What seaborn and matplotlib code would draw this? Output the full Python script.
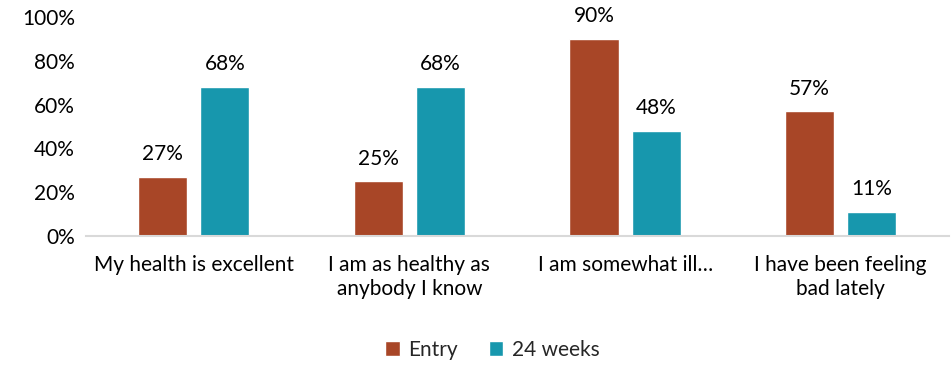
import pandas as pd
import matplotlib
matplotlib.use("Agg")
import matplotlib.pyplot as plt
import matplotlib.ticker as ticker
import seaborn as sns

# Data
categories = ["My health is excellent", "I am as healthy as\nanybody I know",
              "I am somewhat ill…", "I have been feeling\nbad lately"]
entry = [27, 25, 90, 57]
weeks24 = [68, 68, 48, 11]
series = ["Entry", "24 weeks"]

RUST = "#A84627"
TEAL = "#1797AD"

sns.set_theme(style="white")
plt.rcParams["font.family"] = ["Lato", "DejaVu Sans"]

df = pd.DataFrame({
    "category": categories * 2,
    "series": [series[0]] * 4 + [series[1]] * 4,
    "value": entry + weeks24,
})

fig = plt.figure(figsize=(9.51, 3.67), dpi=100)
ax = fig.add_axes([0.0904, 0.357, 0.907, 0.597])

sns.barplot(data=df, x="category", y="value", hue="series", order=categories,
            hue_order=series, palette=[RUST, TEAL], width=0.576, gap=0.21,
            saturation=1, ax=ax, legend=True)

for cont in ax.containers:
    ax.bar_label(cont, labels=[f"{v:.0f}%" for v in cont.datavalues],
                 padding=9, fontsize=15, color="#000000")

ax.set_ylim(0, 100)
ax.yaxis.set_major_locator(ticker.MultipleLocator(20))
ax.yaxis.set_major_formatter(ticker.FuncFormatter(lambda v, p: f"{v:.0f}%"))
ax.set_xlim(-0.5, 3.5)
ax.set_xlabel("")
ax.set_ylabel("")
ax.tick_params(axis="both", length=0, labelsize=15, colors="#000000")
ax.tick_params(axis="x", pad=14)
ax.tick_params(axis="y", pad=8)
for lab in ax.get_xticklabels():
    lab.set_linespacing(1.25)

for s in ["top", "right", "left"]:
    ax.spines[s].set_visible(False)
ax.spines["bottom"].set_color("#D9D9D9")
ax.spines["bottom"].set_linewidth(1.5)

ax.legend(loc="center", bbox_to_anchor=(0.471, -0.52), ncol=2, frameon=False,
          fontsize=15, handlelength=0.7, handleheight=0.7, columnspacing=1.5,
          handletextpad=0.4)

fig.savefig("out.png", dpi=100)
